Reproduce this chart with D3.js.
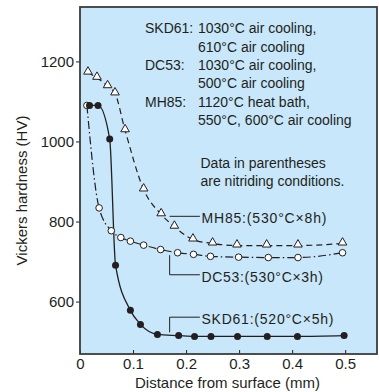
<!DOCTYPE html>
<meta charset="utf-8">
<script src="https://d3js.org/d3.v7.min.js"></script>
<style>
body {margin: 0; background: #fff;}
text {font-family: "Liberation Sans", Arial, sans-serif; fill: #231f20;}
</style>
<div id="chart"></div>
<script>
// hardness profiles
var skdX = [0.018, 0.034, 0.056, 0.067, 0.095, 0.114, 0.146, 0.186, 0.216, 0.247, 0.297, 0.353, 0.41, 0.498];
var skdY = [1090, 1090, 1006, 691, 578, 543, 518, 515, 513, 513, 513, 513, 513, 515];
var dcX = [0.013, 0.036, 0.059, 0.077, 0.095, 0.12, 0.152, 0.184, 0.214, 0.246, 0.299, 0.355, 0.411, 0.495];
var dcY = [1090, 834, 777, 760, 751, 741, 730, 722, 718, 713, 711, 710, 710, 722];
var mhX = [0.015, 0.032, 0.052, 0.066, 0.085, 0.12, 0.153, 0.178, 0.213, 0.25, 0.296, 0.352, 0.411, 0.495];
var mhY = [1172, 1159, 1138, 1120, 1028, 880, 818, 787, 755, 745, 740, 740, 740, 745];

var xTicks = [0, 0.1, 0.2, 0.3, 0.4, 0.5];
var yTicks = [600, 800, 1000, 1200];
var notes = [
	["SKD61:", "1030°C air cooling,"],
	["", "610°C air cooling"],
	["DC53:", "1030°C air cooling,"],
	["", "500°C air cooling"],
	["MH85:", "1120°C heat bath,"],
	["", "550°C, 600°C air cooling"]
];
var notes2 = ["Data in parentheses", "are nitriding conditions."];

var width = 379, height = 392;
var pL = 80, pT = 7, pR = 377, pB = 354;
var ink = "#231f20";

var svg = d3.select("#chart").append("svg")
	.attr("width", width)
	.attr("height", height);

var x = d3.scaleLinear().domain([0, 0.56]).range([pL, pR]);
var y = d3.scaleLinear().domain([469, 1336]).range([pB, pT]);

svg.append("rect")
	.attr("x", pL).attr("y", pT)
	.attr("width", pR - pL).attr("height", pB - pT)
	.attr("fill", "#c8e7fa");

// axes
var gy = svg.append("g").attr("transform", "translate(" + pL + ",0)")
	.call(d3.axisLeft(y).tickValues(yTicks).tickSize(4).tickPadding(2).tickFormat(d3.format("d")));
var gx = svg.append("g").attr("transform", "translate(0," + pB + ")")
	.call(d3.axisBottom(x).tickValues(xTicks).tickSizeInner(-4).tickSizeOuter(0).tickPadding(4)
		.tickFormat(function(d){ return d === 0 ? "0" : d3.format(".1f")(d); }));
[gx, gy].forEach(function(g){
	g.select(".domain").remove();
	g.selectAll("line").attr("stroke", ink).attr("stroke-width", 1);
	g.selectAll("text").attr("font-size", 15).attr("font-family", null).style("fill", ink);
});

svg.append("rect")
	.attr("x", pL).attr("y", pT)
	.attr("width", pR - pL).attr("height", pB - pT)
	.attr("fill", "none")
	.attr("stroke", "#3c3c3c")
	.attr("stroke-width", 1.8);

svg.append("text")
	.attr("transform", "translate(27," + ((pT + pB) / 2 + 10) + ") rotate(-90)")
	.attr("text-anchor", "middle")
	.attr("font-size", 15)
	.text("Vickers hardness (HV)");

svg.append("text")
	.attr("x", (pL + pR) / 2 - 1)
	.attr("y", 388)
	.attr("text-anchor", "middle")
	.attr("font-size", 15)
	.text("Distance from surface (mm)");

// curves
function pts(xs, ys) { return xs.map(function(v, i){ return [v, ys[i]]; }); }
var line = d3.line().x(function(d){ return x(d[0]); }).y(function(d){ return y(d[1]); })
	.curve(d3.curveMonotoneX);

var skd = pts(skdX, skdY), dc = pts(dcX, dcY), mh = pts(mhX, mhY);

svg.append("path").datum(mh).attr("d", line)
	.attr("fill", "none").attr("stroke", ink).attr("stroke-width", 1.2)
	.attr("stroke-dasharray", "6,4");
svg.append("path").datum(dc).attr("d", line)
	.attr("fill", "none").attr("stroke", ink).attr("stroke-width", 1.2)
	.attr("stroke-dasharray", "8,3,1.5,3");
svg.append("path").datum(skd).attr("d", line)
	.attr("fill", "none").attr("stroke", ink).attr("stroke-width", 1.3);

svg.selectAll(".tri").data(mh).enter().append("path")
	.attr("transform", function(d){ return "translate(" + x(d[0]) + "," + (y(d[1]) - 1) + ")"; })
	.attr("d", d3.symbol().type(d3.symbolTriangle).size(32))
	.attr("fill", "#fff").attr("stroke", ink).attr("stroke-width", 1);
svg.selectAll(".oc").data(dc).enter().append("circle")
	.attr("cx", function(d){ return x(d[0]); })
	.attr("cy", function(d){ return y(d[1]); })
	.attr("r", 3.3)
	.attr("fill", "#fff").attr("stroke", ink).attr("stroke-width", 1);
svg.selectAll(".fc").data(skd).enter().append("circle")
	.attr("cx", function(d){ return x(d[0]); })
	.attr("cy", function(d){ return y(d[1]); })
	.attr("r", 3.5)
	.attr("fill", ink);

// heat treatment notes
var ng = svg.append("g").attr("font-size", 14);
notes.forEach(function(n, i){
	var by = 33.3 + i * 18.3;
	if (n[0]) ng.append("text").attr("x", 145).attr("y", by).text(n[0]);
	ng.append("text").attr("x", 198).attr("y", by).text(n[1]);
});
notes2.forEach(function(t, i){
	ng.append("text").attr("x", 200.5).attr("y", 168.3 + i * 17.7).text(t);
});

// series labels with leader lines
var labels = [
	{text: "MH85:(530°C×8h)", hv0: null, hv: 813, len: 125},
	{text: "DC53:(530°C×3h)", hv0: 716, hv: 667, len: 121.5},
	{text: "SKD61:(520°C×5h)", hv0: 523, hv: 561, len: 132}
];
labels.forEach(function(l){
	var p = "M" + x(0.169) + "," + y(l.hv0 == null ? l.hv : l.hv0) + "V" + y(l.hv) + "H" + x(0.226);
	svg.append("path").attr("d", p).attr("fill", "none").attr("stroke", ink).attr("stroke-width", 1);
	svg.append("text")
		.attr("x", x(0.229))
		.attr("y", y(l.hv) + 6.8)
		.attr("font-size", 14)
		.attr("textLength", l.len)
		.attr("lengthAdjust", "spacing")
		.text(l.text);
});
</script>
